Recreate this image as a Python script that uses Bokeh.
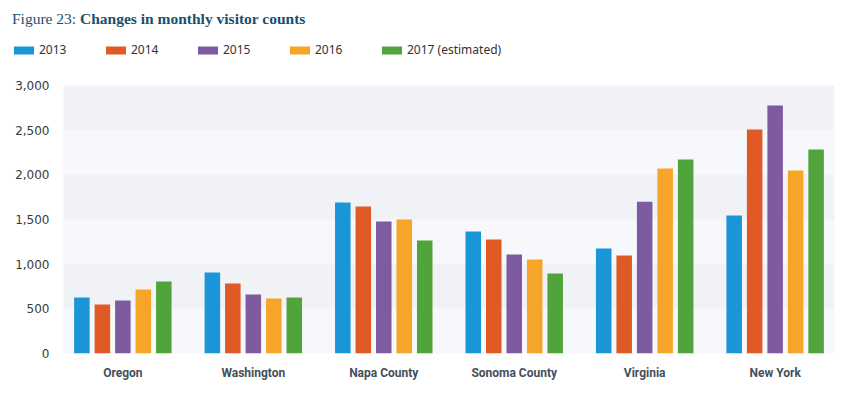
from bokeh.plotting import figure
from bokeh.models import (ColumnDataSource, FactorRange, Range1d, FixedTicker,
                          NumeralTickFormatter, Legend, LegendItem, Div)
from bokeh.transform import dodge
from bokeh.layouts import column
from bokeh.embed import file_html
from bokeh.resources import INLINE

categories = ["Oregon", "Washington", "Napa County", "Sonoma County", "Virginia", "New York"]
years = ["2013", "2014", "2015", "2016", "2017 (estimated)"]
v2013 = [627, 906, 1690, 1365, 1175, 1544]
v2014 = [548, 783, 1645, 1276, 1097, 2507]
v2015 = [593, 660, 1477, 1108, 1700, 2775]
v2016 = [716, 615, 1500, 1052, 2070, 2048]
v2017 = [806, 627, 1264, 895, 2171, 2283]
y_ticks = [0, 500, 1000, 1500, 2000, 2500, 3000]

colors = ["#1a95d7", "#e05a25", "#7e5ba1", "#f6a528", "#51a43b"]
series = [v2013, v2014, v2015, v2016, v2017]
keys = ["y2013", "y2014", "y2015", "y2016", "y2017"]

data = {"cat": categories}
for k, s in zip(keys, series):
    data[k] = s
source = ColumnDataSource(data)

p = figure(x_range=FactorRange(*categories, range_padding=-0.015),
           y_range=Range1d(0, 3000),
           width=855, height=321, output_backend="svg", toolbar_location=None,
           min_border_left=63, min_border_right=21, min_border_top=21,
           min_border_bottom=32)
p.frame_align = False

offsets = [-0.314, -0.157, 0.0, 0.157, 0.314]
for k, c, off in zip(keys, colors, offsets):
    p.vbar(x=dodge("cat", off, range=p.x_range), top=k, width=0.119,
           source=source, fill_color=c, line_color=None)

p.outline_line_color = None
p.background_fill_color = "#f7f8fb"
p.border_fill_color = "white"

p.xgrid.grid_line_color = None
p.ygrid.grid_line_color = None
p.ygrid.band_fill_color = "#f0f2f6"
p.ygrid.band_fill_alpha = 1.0

p.yaxis.ticker = FixedTicker(ticks=y_ticks)
p.yaxis.formatter = NumeralTickFormatter(format="0,0")
p.yaxis.axis_line_color = None
p.yaxis.major_tick_line_color = None
p.yaxis.minor_tick_line_color = None
p.yaxis.major_label_text_font = "DejaVu Sans"
p.yaxis.major_label_text_font_size = "12px"
p.yaxis.major_label_text_color = "#3a3a3a"
p.yaxis.major_label_standoff = 8

p.xaxis.axis_line_color = None
p.xaxis.major_tick_line_color = None
p.xaxis.minor_tick_line_color = None
p.xaxis.major_label_text_font = "Roboto"
p.xaxis.major_label_text_font_size = "12px"
p.xaxis.major_label_text_font_style = "bold"
p.xaxis.major_label_text_color = "#444f5a"
p.xaxis.major_label_standoff = 6

# Legend strip: a small axis-less figure; its bars use the same data but lie
# below its visible y range, so only the legend swatches show.
lf = figure(width=855, height=30, output_backend="svg", toolbar_location=None,
            min_border=0, x_range=FactorRange(*categories), y_range=Range1d(5000, 5001),
            x_axis_location=None, y_axis_location=None)
lf.frame_align = False
lf.grid.visible = False
lf.outline_line_color = None
lf.background_fill_color = None
items = []
for yname, k, c in zip(years, keys, colors):
    r = lf.vbar(x="cat", top=k, width=0.1, source=source, fill_color=c, line_color=None)
    items.append(LegendItem(label=yname, renderers=[r]))
legend = Legend(items=items, orientation="horizontal", location=(11, 6),
                glyph_width=25, glyph_height=10, label_standoff=3, label_width=64,
                spacing=0, padding=0, margin=0,
                label_text_font="Noto Sans", label_text_font_size="12px",
                label_text_color="#333333", background_fill_alpha=0,
                border_line_color=None)
lf.add_layout(legend, "center")

title = Div(text='<span style="font-family:\'Liberation Serif\';font-size:15.5px;color:#1b4f6e;">'
                 'Figure 23: <b>Changes in monthly visitor counts</b></span>',
            width=839, height=26, margin=(8, 0, 0, 12))

layout = column(title, lf, p, spacing=0)
open("out.html", "w").write(file_html(layout, INLINE))
